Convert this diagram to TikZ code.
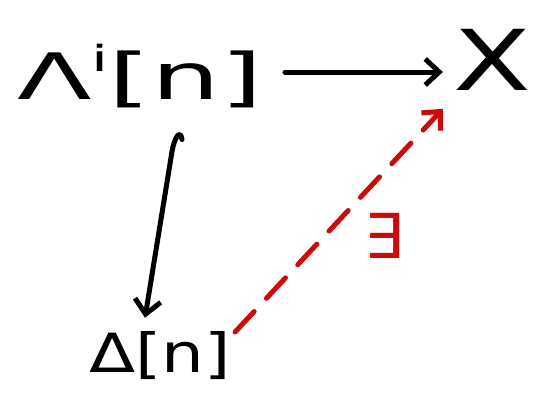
\documentclass[tikz,border=0pt]{standalone}
\usepackage{fontspec}
\setmainfont{DejaVu Sans}
\usetikzlibrary{arrows.meta}
\definecolor{hred}{RGB}{205,10,10}
\begin{document}
\begin{tikzpicture}[x=1pt,y=-1pt,
  lab/.style={inner sep=0pt,font=\fontsize{64}{70}\selectfont},
  tip/.style={-{Straight Barb[length=14pt,width=26pt,line width=5pt]}},
  arr/.style={line width=5pt,line cap=round,line join=round,tip}]
\useasboundingbox (0,0) rectangle (533,399);
\node[lab,xscale=1.7] (L) at (140,76) {Λ\raisebox{0.45em}{\fontsize{36}{40}\selectfont i}[n]};
\node[lab,font=\fontsize{84}{90}\selectfont,xscale=1.35] (X) at (492,60) {X};
\node[lab,font=\fontsize{54}{60}\selectfont,xscale=1.25] (D) at (160,356) {Δ[n]};
\node[font=\fontsize{62}{66}\selectfont\color{hred}] (E) at (384,236) {∃};
\coordinate (a1) at ([xshift=22pt,yshift=4pt]L.east);
\draw[arr] (a1) -- ([xshift=-10pt]a1 -| X.west);
\coordinate (h1) at ([xshift=42pt,yshift=-31pt]L.south);
\coordinate (h2) at ([xshift=-15pt,yshift=14pt]D.north);
\draw[arr] (h1) .. controls ++(-2,-12) and ++(2,-12) .. ++(-10,12) -- (h2);
\coordinate (d1) at ([xshift=4pt,yshift=24pt]D.east);
\coordinate (x1) at ([xshift=-10pt,yshift=-18pt]X.south west);
\draw[arr,hred,dash pattern=on 28pt off 18pt] (d1) -- (x1);
\end{tikzpicture}
\end{document}
